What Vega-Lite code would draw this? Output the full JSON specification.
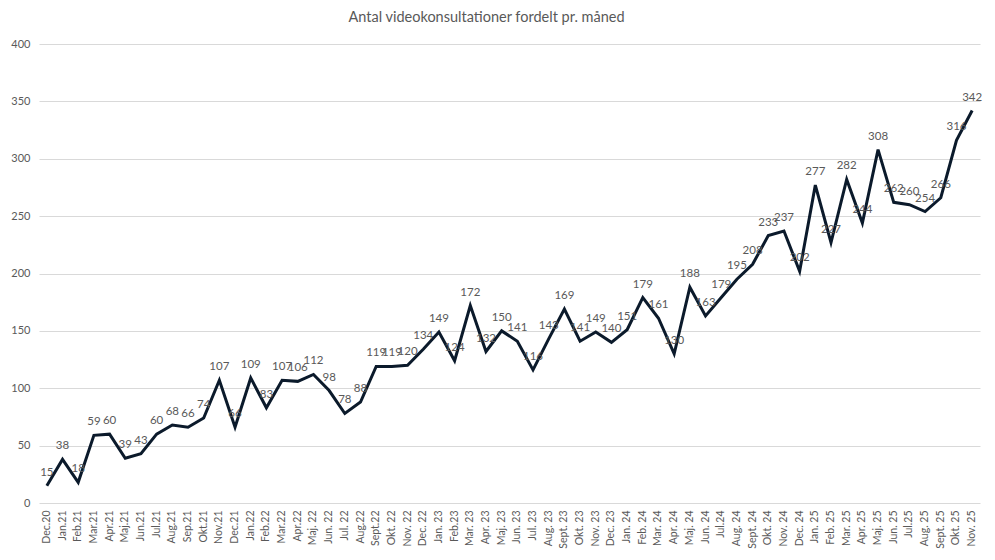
{
  "$schema": "https://vega.github.io/schema/vega-lite/v6.json",
  "autosize": {"type": "none"},
  "width": 941,
  "height": 459,
  "padding": {"left": 39, "top": 44, "right": 15, "bottom": 57},
  "background": "white",
  "title": {
    "text": "Antal videokonsultationer fordelt pr. måned",
    "fontSize": 14.5,
    "font": "Lato",
    "fontWeight": "normal",
    "color": "#595959",
    "anchor": "middle",
    "dx": -23,
    "offset": 13
  },
  "data": {
    "values": [
      {"m": "Dec.20", "v": 15}, {"m": "Jan.21", "v": 38}, {"m": "Feb.21", "v": 18},
      {"m": "Mar.21", "v": 59}, {"m": "Apr.21", "v": 60}, {"m": "Maj.21", "v": 39},
      {"m": "Jun.21", "v": 43}, {"m": "Jul.21", "v": 60}, {"m": "Aug.21", "v": 68},
      {"m": "Sep.21", "v": 66}, {"m": "Okt.21", "v": 74}, {"m": "Nov.21", "v": 107},
      {"m": "Dec.21", "v": 66}, {"m": "Jan.22", "v": 109}, {"m": "Feb.22", "v": 83},
      {"m": "Mar.22", "v": 107}, {"m": "Apr.22", "v": 106}, {"m": "Maj. 22", "v": 112},
      {"m": "Jun. 22", "v": 98}, {"m": "Jul. 22", "v": 78}, {"m": "Aug.22", "v": 88},
      {"m": "Sept.22", "v": 119}, {"m": "Okt. 22", "v": 119}, {"m": "Nov. 22", "v": 120},
      {"m": "Dec. 22", "v": 134}, {"m": "Jan. 23", "v": 149}, {"m": "Feb.23", "v": 124},
      {"m": "Mar. 23", "v": 172}, {"m": "Apr. 23", "v": 132}, {"m": "Maj. 23", "v": 150},
      {"m": "Jun. 23", "v": 141}, {"m": "Jul. 23", "v": 116}, {"m": "Aug. 23", "v": 143},
      {"m": "Sept. 23", "v": 169}, {"m": "Okt. 23", "v": 141}, {"m": "Nov. 23", "v": 149},
      {"m": "Dec. 23", "v": 140}, {"m": "Jan. 24", "v": 151}, {"m": "Feb. 24", "v": 179},
      {"m": "Mar. 24", "v": 161}, {"m": "Apr. 24", "v": 130}, {"m": "Maj. 24", "v": 188},
      {"m": "Jun. 24", "v": 163}, {"m": "Jul.24", "v": 179}, {"m": "Aug. 24", "v": 195},
      {"m": "Sept. 24", "v": 208}, {"m": "Okt. 24", "v": 233}, {"m": "Nov. 24", "v": 237},
      {"m": "Dec. 24", "v": 202}, {"m": "Jan. 25", "v": 277}, {"m": "Feb. 25", "v": 227},
      {"m": "Mar. 25", "v": 282}, {"m": "Apr. 25", "v": 244}, {"m": "Maj. 25", "v": 308},
      {"m": "Jun. 25", "v": 262}, {"m": "Jul.25", "v": 260}, {"m": "Aug. 25", "v": 254},
      {"m": "Sept. 25", "v": 266}, {"m": "Okt. 25", "v": 316}, {"m": "Nov. 25", "v": 342}
    ]
  },
  "encoding": {
    "x": {
      "field": "m",
      "type": "ordinal",
      "sort": null,
      "title": null,
      "scale": {"type": "band", "paddingInner": 0, "paddingOuter": 0},
      "axis": {
        "labelAngle": -90,
        "labelFont": "Lato",
        "labelFontSize": 10.5,
        "labelColor": "#595959",
        "ticks": false,
        "domain": false,
        "labelPadding": 7,
        "grid": false
      }
    },
    "y": {
      "field": "v",
      "type": "quantitative",
      "title": null,
      "scale": {"domain": [0, 400], "nice": false},
      "axis": {
        "values": [0, 50, 100, 150, 200, 250, 300, 350, 400],
        "labelFont": "Lato",
        "labelFontSize": 11,
        "labelColor": "#595959",
        "ticks": false,
        "domain": false,
        "labelPadding": 9,
        "gridColor": "#d9d9d9",
        "gridWidth": 1
      }
    }
  },
  "layer": [
    {
      "mark": {"type": "line", "color": "#0b1a2b", "strokeWidth": 3, "strokeJoin": "miter"}
    },
    {
      "mark": {"type": "text", "font": "Lato", "fontSize": 11.5, "color": "#595959", "baseline": "bottom", "dy": -8},
      "encoding": {"text": {"field": "v", "type": "quantitative"}}
    }
  ],
  "config": {"view": {"stroke": null}}
}
